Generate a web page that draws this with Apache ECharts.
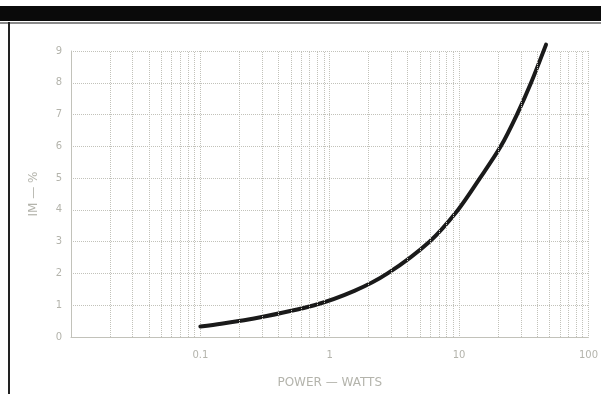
<!DOCTYPE html>
<html><head><meta charset="utf-8">
<script src="https://cdn.jsdelivr.net/npm/echarts@6/dist/echarts.min.js"></script>
<style>html,body{margin:0;padding:0;background:#fff}#c{width:601px;height:394px}</style>
</head><body><div id="c"></div>
<script>
const powerWatts = [0.1, 0.145, 0.26, 0.76, 1.55, 2.8, 5.9, 9.8, 14.5, 21, 28, 36, 47];
const imPercent  = [0.33, 0.42, 0.58, 1.0, 1.45, 2.0, 3.0, 4.0, 5.0, 6.0, 7.0, 8.0, 9.2];
const xTickLabels = ['0.1', '1', '10', '100'];
const yTicks = [0,1,2,3,4,5,6,7,8,9];
const minorMults = [2,3,4,5,6,7,8,9];
const decades = [0.01, 0.1, 1, 10];

const minorLines = [];
decades.forEach(d => minorMults.forEach(m => minorLines.push({xAxis: +(d*m).toPrecision(3)})));

const gridColor = '#c2c2ba';
const textColor = '#b4b4ac';
const chart = echarts.init(document.getElementById('c'));
chart.setOption({
  backgroundColor: '#fff',
  animation: false,
  grid: {left: 71, right: 11, top: 51, bottom: 56},
  xAxis: {
    type: 'log', logBase: 10, min: 0.01, max: 100,
    name: 'POWER — WATTS', nameLocation: 'middle', nameGap: 40,
    nameTextStyle: {color: textColor, fontSize: 12, fontFamily: 'DejaVu Sans'},
    axisLine: {show: true, lineStyle: {color: gridColor, width: 1}},
    axisTick: {show: false},
    axisLabel: {color: textColor, fontSize: 10, fontFamily: 'DejaVu Sans', margin: 13,
      formatter: v => { const s = String(+v.toPrecision(3)); return xTickLabels.includes(s) ? s : ''; }},
    splitLine: {show: true, lineStyle: {color: gridColor, type: 'dotted', width: 1}}
  },
  yAxis: {
    type: 'value', min: 0, max: 9, interval: 1,
    name: 'IM — %', nameLocation: 'middle', nameGap: 31, nameRotate: 90,
    nameTextStyle: {color: textColor, fontSize: 12, fontFamily: 'DejaVu Sans'},
    axisLine: {show: true, lineStyle: {color: gridColor, width: 1}},
    axisTick: {show: false},
    axisLabel: {color: textColor, fontSize: 10, fontFamily: 'DejaVu Sans', margin: 9,
      formatter: v => yTicks.includes(v) ? String(v) : ''},
    splitLine: {show: true, lineStyle: {color: gridColor, type: 'dotted', width: 1}}
  },
  graphic: [
    {type: 'rect', shape: {x: 0, y: 6, width: 601, height: 15}, style: {fill: '#0a0a0a'}, z: 100},
    {type: 'rect', shape: {x: 0, y: 22, width: 601, height: 2}, style: {fill: '#8a8a8a'}, z: 100},
    {type: 'rect', shape: {x: 8, y: 22, width: 2, height: 372}, style: {fill: '#222'}, z: 100}
  ],
  series: [{
    type: 'line',
    data: powerWatts.map((x, i) => [x, imPercent[i]]),
    smooth: 0.3,
    clip: false,
    showSymbol: false,
    lineStyle: {color: '#1a1a1a', width: 4, cap: 'round'},
    markLine: {
      silent: true, symbol: 'none', label: {show: false},
      lineStyle: {color: gridColor, type: 'dotted', width: 1},
      data: minorLines
    }
  }]
});
</script>
</body></html>
